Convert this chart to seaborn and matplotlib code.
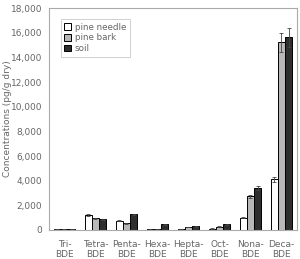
import matplotlib
matplotlib.use("Agg")
import matplotlib.pyplot as plt
import seaborn as sns
import pandas as pd

congeners = ["Tri-\nBDE", "Tetra-\nBDE", "Penta-\nBDE", "Hexa-\nBDE", "Hepta-\nBDE",
             "Oct-\nBDE", "Nona-\nBDE", "Deca-\nBDE"]
methods = ["pine needle", "pine bark", "soil"]
needle = [100, 1200, 750, 40, 100, 120, 1000, 4100]
bark = [100, 950, 540, 100, 250, 280, 2750, 15220]
soil = [80, 870, 1270, 450, 300, 450, 3380, 15620]
needle_err = [20, 60, 50, 10, 20, 20, 50, 200]
bark_err = [20, 50, 40, 20, 30, 30, 120, 750]
soil_err = [20, 40, 60, 40, 30, 40, 150, 800]

rows = []
for i, c in enumerate(congeners):
    for m, vals in zip(methods, [needle, bark, soil]):
        rows.append({"Congener": c, "Sample": m, "Conc": vals[i]})
df = pd.DataFrame(rows)

sns.set_style("white")
plt.rcParams['font.family'] = ['DejaVu Sans']
grey = "#666666"

fig = plt.figure(figsize=(3.0, 2.59), dpi=100)
ax = fig.add_axes([0.163, 0.112, 0.827, 0.857])
palette = {"pine needle": "white", "pine bark": "#b8b8b8", "soil": "#2e2e2e"}
sns.barplot(data=df, x="Congener", y="Conc", hue="Sample", hue_order=methods,
            palette=palette, edgecolor="black", linewidth=0.7, width=0.7,
            errorbar=None, ax=ax)

# error bars on top of each bar
errs = {"pine needle": needle_err, "pine bark": bark_err, "soil": soil_err}
for cont, m in zip(ax.containers, methods):
    xs = [p.get_x() + p.get_width() / 2 for p in cont.patches]
    hs = [p.get_height() for p in cont.patches]
    ax.errorbar(xs, hs, yerr=errs[m], fmt="none", ecolor="#444444",
                elinewidth=0.6, capsize=1.5, capthick=0.6)

ax.set_ylim(0, 18000)
ax.set_yticks(range(0, 18001, 2000))
ax.set_yticklabels([f"{v:,}" for v in range(0, 18001, 2000)])
ax.set_xlim(-0.5, 7.5)
ax.set_xlabel("")
ax.set_ylabel("Concentrations (pg/g dry)", fontsize=6.5, color=grey)
ax.yaxis.set_label_coords(-0.15, 0.5)
ax.tick_params(axis="y", labelsize=6.5, colors=grey, length=0, pad=5)
ax.tick_params(axis="x", labelsize=6.5, colors=grey, length=0, pad=7)
for s in ax.spines.values():
    s.set_color("#aaaaaa")
    s.set_linewidth(0.8)

leg = ax.legend(loc="upper left", bbox_to_anchor=(0.03, 0.97), fontsize=6.3,
                frameon=True, fancybox=False, handlelength=0.8, handleheight=0.8,
                handletextpad=0.4, labelspacing=0.2, borderpad=0.4)
leg.get_frame().set_edgecolor("#bbbbbb")
leg.get_frame().set_linewidth(0.6)
for t in leg.get_texts():
    t.set_color(grey)

fig.savefig("out.png", dpi=100)
